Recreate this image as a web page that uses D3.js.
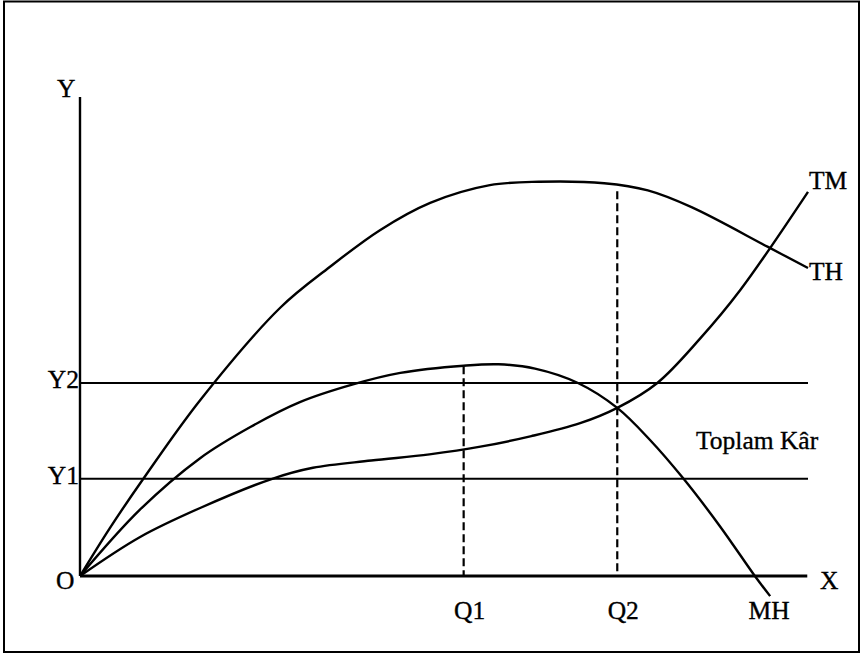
<!DOCTYPE html>
<html>
<head>
<meta charset="utf-8">
<script src="https://cdn.jsdelivr.net/npm/d3@7"></script>
<style>
  body { margin: 0; background: #fff; }
  text { font-family: "Liberation Serif", "Times New Roman", serif; font-size: 25.5px; fill: #000; stroke: #000; stroke-width: 0.35px; }
</style>
</head>
<body>
<svg id="kar_graph" width="862" height="654"></svg>
<script>
// Values, in chart units (x: 0..100, y: 0..100)
const thX = [0, 4.1, 8.7, 16.5, 27.5, 34.3, 41.2, 48.1, 56.3, 63.0, 72.0, 78.0, 84.0, 94.5, 100];
const thY = [0, 10.0, 20.3, 36.7, 56.0, 64.5, 72.2, 77.9, 81.6, 82.3, 82.0, 80.5, 77.0, 68.7, 64.3];

const mhX = [0, 8.2, 16.5, 23.4, 30.2, 37.5, 44.0, 52.7, 57.5, 62.5, 68.4, 73.8, 78.3, 82.8, 87.9, 92.7, 94.8];
const mhY = [0, 13.8, 24.6, 31.1, 36.3, 40.0, 42.4, 43.9, 44.2, 43.3, 40.3, 35.1, 28.4, 20.5, 10.4, 0, -4.2];

const tmX = [0, 8.2, 16.5, 26.4, 32.0, 40.0, 48.0, 55.0, 62.0, 68.7, 73.8, 79.3, 85.2, 90.7, 100];
const tmY = [0, 8.1, 14.2, 20.3, 22.6, 24.1, 25.4, 27.0, 29.2, 31.9, 35.1, 40.3, 49.6, 59.7, 80.2];

// Horizontal levels and vertical quantities
const levelNames = ["Y1", "Y2"];
const levelValues = [20.3, 40.3];
const qNames = ["Q1", "Q2"];
const qValues = [52.7, 73.8];
const qTops = [43.8, 80.3];

const svg = d3.select("#kar_graph");

const x = d3.scaleLinear().domain([0, 100]).range([80, 808]);
const y = d3.scaleLinear().domain([0, 100]).range([576, 97]);

// Outer frame
svg.append("rect")
    .attr("x", 4)
    .attr("y", 1.5)
    .attr("width", 855)
    .attr("height", 650.5)
    .attr("fill", "none")
    .attr("stroke", "#000")
    .attr("stroke-width", 2);

// Y1 / Y2 horizontal lines
levelValues.forEach((v, i) => {
    svg.append("line")
        .attr("x1", x(0)).attr("x2", x(100))
        .attr("y1", y(v)).attr("y2", y(v))
        .attr("stroke", "#000")
        .attr("stroke-width", 2);
    svg.append("text")
        .attr("x", x(0) - 1)
        .attr("y", y(v) + 5)
        .attr("text-anchor", "end")
        .text(levelNames[i]);
});

// Dashed verticals at Q1, Q2
qValues.forEach((q, i) => {
    svg.append("line")
        .attr("x1", x(q)).attr("x2", x(q))
        .attr("y1", y(qTops[i])).attr("y2", y(0))
        .attr("stroke", "#000")
        .attr("stroke-width", 2.2)
        .attr("stroke-dasharray", "8,4");
    svg.append("text")
        .attr("x", x(q) + 6)
        .attr("y", 619)
        .attr("text-anchor", "middle")
        .text(qNames[i]);
});

// Axes
svg.append("line")
    .attr("x1", x(0)).attr("x2", x(0))
    .attr("y1", y(0)).attr("y2", y(100))
    .attr("stroke", "#000")
    .attr("stroke-width", 2.4);

svg.append("line")
    .attr("x1", x(0)).attr("x2", x(99.9))
    .attr("y1", y(0)).attr("y2", y(0))
    .attr("stroke", "#000")
    .attr("stroke-width", 2.8);

// Curves
const line = d3.line()
    .x(d => x(d[0]))
    .y(d => y(d[1]))
    .curve(d3.curveCatmullRom.alpha(0.5));

const curves = [
    {xs: thX, ys: thY},
    {xs: mhX, ys: mhY},
    {xs: tmX, ys: tmY}
];

curves.forEach(c => {
    svg.append("path")
        .datum(d3.zip(c.xs, c.ys))
        .attr("fill", "none")
        .attr("stroke", "#000")
        .attr("stroke-width", 2.4)
        .attr("d", line);
});

// Labels
svg.append("text").attr("x", 57).attr("y", 97).text("Y");
svg.append("text").attr("x", 56).attr("y", 589).text("O");
svg.append("text").attr("x", 820).attr("y", 589).text("X");
svg.append("text").attr("x", 809).attr("y", 189).text("TM");
svg.append("text").attr("x", 809).attr("y", 280).text("TH");
svg.append("text").attr("x", 769).attr("y", 619).attr("text-anchor", "middle").text("MH");
svg.append("text").attr("x", 696).attr("y", 449).text("Toplam Kâr");
</script>
</body>
</html>
